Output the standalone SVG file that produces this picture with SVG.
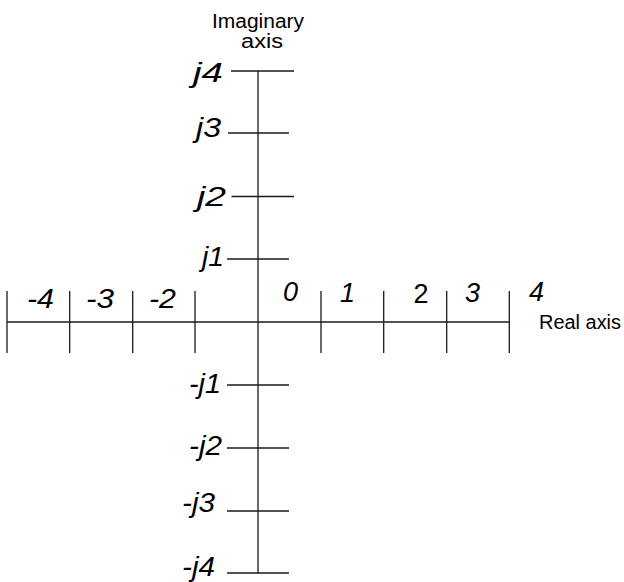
<svg xmlns="http://www.w3.org/2000/svg" width="624" height="582" viewBox="0 0 624 582">
<style>
.ax{stroke:#1a1a1a;stroke-width:1.3;fill:none}
.lbl{font-family:"Liberation Sans",Arial,sans-serif;font-size:27px;font-style:italic;fill:#000}
.up{font-style:normal}
.cap{font-family:"Liberation Sans",Arial,sans-serif;font-size:20px;fill:#000}
</style>
<rect width="624" height="582" fill="#fff"/>
<g id="connectors">
<line class="ax" x1="7" y1="322" x2="509" y2="322"/>
<line class="ax" x1="258" y1="71" x2="258" y2="573"/>
<g id="real-ticks">
<line class="ax" x1="7" y1="291" x2="7" y2="353"/>
<line class="ax" x1="69.7" y1="291" x2="69.7" y2="353"/>
<line class="ax" x1="132.7" y1="291" x2="132.7" y2="353"/>
<line class="ax" x1="195" y1="291" x2="195" y2="353"/>
<line class="ax" x1="321" y1="291" x2="321" y2="353"/>
<line class="ax" x1="383.7" y1="291" x2="383.7" y2="353"/>
<line class="ax" x1="446.7" y1="291" x2="446.7" y2="353"/>
<line class="ax" x1="509.3" y1="291" x2="509.3" y2="353"/>
</g>
<g id="imag-ticks">
<line class="ax" x1="231" y1="71" x2="294" y2="71"/>
<line class="ax" x1="228" y1="133" x2="289" y2="133"/>
<line class="ax" x1="231.5" y1="196.5" x2="294" y2="196.5"/>
<line class="ax" x1="227" y1="259" x2="289" y2="259"/>
<line class="ax" x1="227" y1="385" x2="289" y2="385"/>
<line class="ax" x1="227" y1="448" x2="289" y2="448"/>
<line class="ax" x1="227" y1="511" x2="289" y2="511"/>
<line class="ax" x1="227" y1="573" x2="289" y2="573"/>
</g>
</g>
<g id="axis-titles">
<text class="cap" x="212" y="28" textLength="92" lengthAdjust="spacingAndGlyphs">Imaginary</text>
<text class="cap" x="241" y="48" textLength="42" lengthAdjust="spacingAndGlyphs">axis</text>
<text class="cap" x="539" y="329" textLength="82" lengthAdjust="spacingAndGlyphs">Real axis</text>
</g>
<g id="real-labels">
<text class="lbl" x="27" y="308" textLength="27" lengthAdjust="spacingAndGlyphs">-4</text>
<text class="lbl" x="86" y="308" textLength="28" lengthAdjust="spacingAndGlyphs">-3</text>
<text class="lbl" x="149" y="308" textLength="27" lengthAdjust="spacingAndGlyphs">-2</text>
<text class="lbl" x="290.5" y="301" text-anchor="middle">0</text>
<text class="lbl" x="347.5" y="302" text-anchor="middle">1</text>
<text class="lbl up" x="421" y="303" text-anchor="middle">2</text>
<text class="lbl" x="472.5" y="302" text-anchor="middle">3</text>
<text class="lbl" x="536.5" y="301" text-anchor="middle">4</text>
</g>
<g id="imag-labels">
<text class="lbl" x="193" y="82" textLength="30" lengthAdjust="spacingAndGlyphs">j4</text>
<text class="lbl" x="196" y="137" textLength="25" lengthAdjust="spacingAndGlyphs">j3</text>
<text class="lbl" x="197" y="206" textLength="29" lengthAdjust="spacingAndGlyphs">j2</text>
<text class="lbl" x="202" y="266" textLength="22" lengthAdjust="spacingAndGlyphs">j1</text>
<text class="lbl" x="189" y="393" textLength="32" lengthAdjust="spacingAndGlyphs">-j1</text>
<text class="lbl" x="189" y="455" textLength="33" lengthAdjust="spacingAndGlyphs">-j2</text>
<text class="lbl" x="182" y="512" textLength="33" lengthAdjust="spacingAndGlyphs">-j3</text>
<text class="lbl" x="182" y="576" textLength="33" lengthAdjust="spacingAndGlyphs">-j4</text>
</g>
</svg>
